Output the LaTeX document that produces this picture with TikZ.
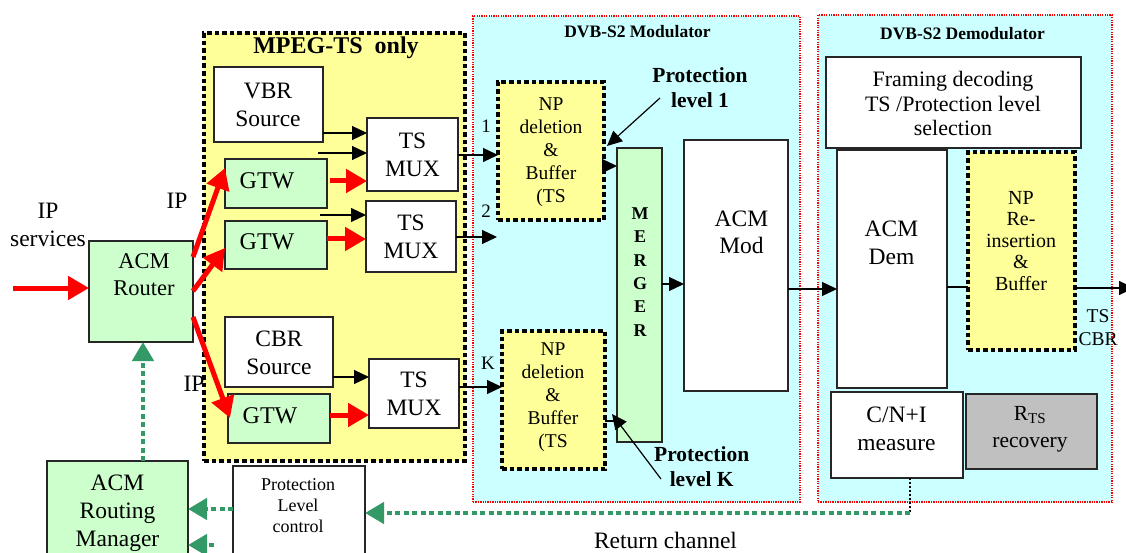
\documentclass[tikz,border=0pt]{standalone}
\usepackage{fontspec}
\setmainfont{Liberation Serif}
\usetikzlibrary{arrows.meta,calc,fit}
\definecolor{yel}{HTML}{FFFF99}
\definecolor{grn}{HTML}{CCFFCC}
\definecolor{cyn}{HTML}{CCFFFF}
\definecolor{gdot}{HTML}{339966}
\definecolor{gry}{HTML}{C0C0C0}
\newcommand\fsz[2]{\fontsize{#1}{#2}\selectfont}
\begin{document}
\begin{tikzpicture}[x=1pt,y=-1pt,
 bx/.style={draw=black!85,line width=1.1pt,inner sep=0pt,outer sep=0pt},
 dotbx/.style={draw=black,line width=4.6pt,dash pattern=on 4.6pt off 3pt,fill=yel,inner sep=0pt,outer sep=0pt},
 redbx/.style={draw=red,line width=1.2pt,dash pattern=on 1.3pt off 1.1pt,fill=cyn,inner sep=0pt,outer sep=0pt},
 txt/.style={inner sep=0pt,align=center},
 barr/.style={line width=1.2pt,-{Triangle[length=15pt,width=14pt]}},
 bln/.style={line width=1.2pt},
 rarr/.style={draw=red,line width=5pt,-{Triangle[length=21pt,width=23pt]}},
 garr/.style={draw=gdot,line width=4.5pt,dash pattern=on 5pt off 3.5pt,-{Triangle[length=19pt,width=21pt]}},
 bdot/.style={line width=2pt,dash pattern=on 2pt off 2pt}
]
\useasboundingbox (0,0) rectangle (1126,553);
\fill[white] (0,0) rectangle (1126,553);

% containers
\node[dotbx,fit={(204,33) (465,461)}] (mpeg) {};
\node[redbx,fit={(473,16) (800,502)}] (mod) {};
\node[redbx,fit={(818,15) (1112,502)}] (dem) {};

% boxes
\node[bx,fill=white,fit={(214,67) (323,142)}] (vbr) {};
\node[bx,fill=white,fit={(367,118) (458,191)}] (mux1) {};
\node[bx,fill=grn,fit={(225,159) (327,208)}] (gtw1) {};
\node[bx,fill=grn,fit={(225,221) (327,269)}] (gtw2) {};
\node[bx,fill=white,fit={(366,201) (456,272)}] (mux2) {};
\node[bx,fill=white,fit={(225,317) (333,387)}] (cbr) {};
\node[bx,fill=grn,fit={(228,394) (330,443)}] (gtw3) {};
\node[bx,fill=white,fit={(369,359) (459,428)}] (mux3) {};
\node[bx,fill=grn,fit={(89,241) (193,342)}] (router) {};
\node[bx,fill=grn,fit={(47,461) (188,590)}] (mgr) {};
\node[bx,fill=white,fit={(233,466) (365,590)}] (plc) {};
\node[dotbx,fit={(498,82) (604,220)}] (np1) {};
\node[dotbx,fit={(502,331) (605,469)}] (npk) {};
\node[bx,fill=grn,fit={(617,148) (662,442)}] (merger) {};
\node[bx,fill=white,fit={(684,140) (788,391)}] (acmmod) {};
\node[bx,fill=white,fit={(826,57) (1081,148)}] (framing) {};
\node[bx,fill=white,fit={(837,150) (947,388)}] (acmdem) {};
\node[dotbx,fit={(968,152) (1075,350)}] (npre) {};
\node[bx,fill=white,fit={(831,392) (963,478)}] (cni) {};
\node[bx,fill=gry,fit={(966,394) (1097,469)}] (rts) {};

% texts
\node[txt,font=\bfseries\fsz{24}{28},anchor=base] (tmpeg) at (336,54) {MPEG-TS~ only};
\node[txt,font=\fsz{23.5}{27.5}] (tvbr) at (268,105) {VBR\\Source};
\node[txt,font=\fsz{23.5}{28}] (tmux1) at (412.5,155) {TS\\MUX};
\node[txt,font=\fsz{24}{28},anchor=base] (tgtw1) at (267,189) {GTW};
\node[txt,font=\fsz{24}{28},anchor=base] (tgtw2) at (267,250) {GTW};
\node[txt,font=\fsz{23.5}{28}] (tmux2) at (411,236.5) {TS\\MUX};
\node[txt,font=\fsz{23.5}{28}] (tcbr) at (279,353) {CBR\\Source};
\node[txt,font=\fsz{24}{28},anchor=base] (tgtw3) at (270,423) {GTW};
\node[txt,font=\fsz{23.5}{28}] (tmux3) at (414,394) {TS\\MUX};
\node[txt,font=\fsz{22.5}{27}] (trouter) at (144,275) {ACM\\Router};
\node[txt,font=\fsz{23.5}{28.5}] (tips) at (48,225) {IP\\services};
\node[txt,font=\fsz{23.5}{28},anchor=base] (tip1) at (177,209) {IP};
\node[txt,font=\fsz{23.5}{28},anchor=base] (tip2) at (194,391) {IP};
\node[txt,font=\fsz{23.5}{28}] (tmgr) at (117.5,513) {ACM\\Routing\\Manager};
\node[txt,font=\fsz{18}{21}] (tplc) at (298,506) {Protection\\Level\\control};
\node[txt,font=\fsz{23.5}{28},anchor=base] (tret) at (665.5,548) {Return channel};
\node[txt,font=\bfseries\fsz{17.5}{20},anchor=base] (tmod) at (637.5,38) {DVB-S2 Modulator};
\node[txt,font=\bfseries\fsz{17.5}{20},anchor=base] (tdem) at (962.5,40) {DVB-S2 Demodulator};
\node[txt,font=\bfseries\fsz{21.5}{25}] (tpl1) at (700,87.5) {Protection\\level 1};
\node[txt,font=\bfseries\fsz{21.5}{25}] (tplk) at (701.7,467) {Protection\\level K};
\node[txt,font=\fsz{19.5}{23}] (tnp1) at (551,152) {NP\\deletion\\\&\\Buffer\\(TS};
\node[txt,font=\fsz{19.5}{23}] (tnpk) at (553,397) {NP\\deletion\\\&\\Buffer\\(TS};
\node[txt,font=\bfseries\fsz{18}{23.3}] (tmerger) at (640,272) {M\\E\\R\\G\\E\\R};
\node[txt,font=\fsz{23.5}{27}] (tacmmod) at (741.5,232) {ACM\\Mod};
\node[txt,font=\fsz{22}{24.3}] (tframing) at (953,103.5) {Framing decoding\\TS /Protection level\\selection};
\node[txt,font=\fsz{23.5}{28}] (tacmdem) at (891.5,242.5) {ACM\\Dem};
\node[txt,font=\fsz{20}{21.5}] (tnpre) at (1021,241) {NP\\Re-\\insertion\\\&\\Buffer};
\node[txt,font=\fsz{19.5}{23}] (ttscbr) at (1098,328) {TS\\CBR};
\node[txt,font=\fsz{23.5}{28}] (tcni) at (896.5,428.5) {C/N+I\\measure};
\node[txt,font=\fsz{21.5}{26.7}] (trts) at (1030,429) {R\textsubscript{TS}\\recovery};
\node[txt,font=\fsz{19}{23},anchor=base] (l1) at (486,133) {1};
\node[txt,font=\fsz{19}{23},anchor=base] (l2) at (486,218) {2};
\node[txt,font=\fsz{19}{23},anchor=base] (lk) at (488,369) {K};

% free ends
\coordinate (inp) at (13,288);
\coordinate (f1) at (318,153);
\coordinate (f2) at (320,215);
\coordinate (o2) at (497,237);
\coordinate (out) at (1134,288);
\coordinate (pl1a) at (660,98);
\coordinate (plka) at (661,479);
\coordinate (g2) at (214,545);

% red connectors
\draw[rarr] (inp) -- (router.west |- inp);
\draw[rarr] (router.east |- 0,257) -- (gtw1.west |- 0,168);
\draw[rarr] (router.east |- 0,291) -- (gtw2.west |- 0,248);
\draw[rarr] (router.east |- 0,317) -- ($(gtw3.west |- 0,418)+(2,0)$);
\draw[rarr] ($(gtw1.east |- 0,181)+(3,0)$) -- (mux1.west |- 0,181);
\draw[rarr] (gtw2.east |- 0,239) -- (mux2.west |- 0,239);
\draw[rarr] (gtw3.east |- 0,415) -- (mux3.west |- 0,415);

% black connectors
\draw[barr] (vbr.east |- 0,133) -- (mux1.west |- 0,133);
\draw[barr] (f1) -- (mux1.west |- f1);
\draw[barr] (f2) -- (mux2.west |- f2);
\draw[barr] (cbr.east |- 0,377) -- (mux3.west |- 0,377);
\draw[barr] (mux1.east |- 0,155) -- (np1.west |- 0,155);
\draw[barr] (mux2.east |- o2) -- (o2);
\draw[barr] (mux3.east |- 0,387) -- (npk.west |- 0,387);
\draw[barr] (np1.east |- 0,166) -- (merger.west |- 0,166);
\draw[bln] (npk.east |- 0,421) -- (merger.west |- 0,421);
\draw[barr] (merger.east |- 0,284) -- (acmmod.west |- 0,284);
\draw[barr] (acmmod.east |- 0,289) -- (acmdem.west |- 0,289);
\draw[bln] (acmdem.east |- 0,287) -- (npre.west |- 0,287);
\draw[barr] (npre.east |- out) -- (out);
\draw[barr] (pl1a) -- ($(np1.east |- 0,146)+(3,0)$);
\draw[barr] (plka) -- ($(npk.east |- 0,414)+(7,0)$);

% return channel
\draw[bdot] (cni.south -| 910,0) -- (910,513) coordinate (rc);
\draw[garr] (rc) -- (plc.east |- rc);
\draw[garr] (plc.west |- 0,509) -- (mgr.east |- 0,509);
\draw[garr] (g2) -- (mgr.east |- g2);
\draw[garr] (mgr.north -| 143,0) -- (router.south -| 143,0);
\end{tikzpicture}
\end{document}
